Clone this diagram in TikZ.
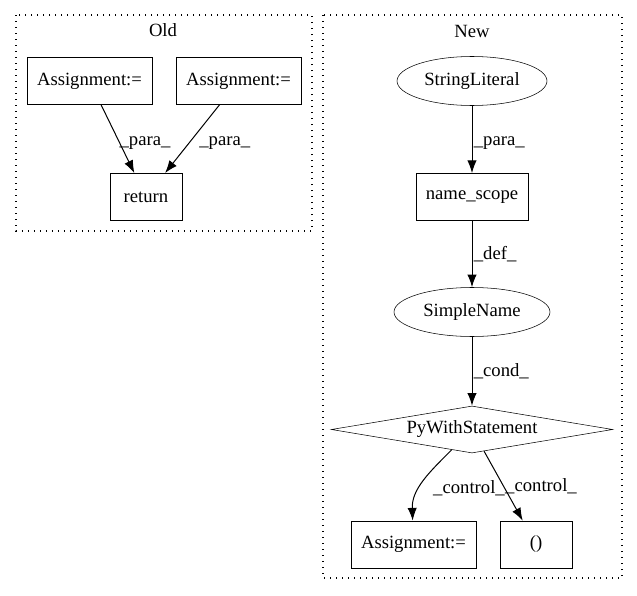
\documentclass[tikz,border=0pt]{standalone}
\usepackage{fontspec}
\setmainfont{Liberation Serif}
\usetikzlibrary{shapes.geometric,arrows.meta}

\begin{document}
\begin{tikzpicture}[x=0.75pt,y=0.75pt,font=\fontsize{14}{16}\selectfont,
   box/.style={draw,rectangle,inner sep=0pt,minimum height=35.5pt},
   oval/.style={draw,ellipse,inner sep=0pt,minimum height=36.75pt},
   edge/.style={black,-{Latex[length=9.5pt,width=7pt]},line width=0.75pt},
   lbl/.style={right,inner sep=1pt},
   cluster/.style={line width=0.9pt,dash pattern=on 0.9pt off 3.6pt}]
   \useasboundingbox (0,0) rectangle (637,-596);
   \draw[cluster] (16,-15) rectangle (312,-231);
   \draw[cluster] (323,-15) rectangle (622,-578);
   \node (old) at (163,-30) {Old};
   \node (new) at (472,-31) {New};
   \node[box,minimum width=93.75pt] (asgA) at (89.5,-81) {Assignment:=};
   \node[box,minimum width=93.75pt] (asgB) at (238.5,-81) {Assignment:=};
   \node[box,minimum width=54pt] (ret) at (146,-197) {return};
   \node[oval,minimum width=112.5pt] (strlit) at (472,-81) {StringLiteral};
   \node[box,minimum width=84pt] (nscope) at (472,-197) {name\_scope};
   \node[oval,minimum width=117pt] (sname) at (472,-312) {SimpleName};
   \node[draw,diamond,aspect=6,inner sep=0pt,minimum width=210.75pt,minimum height=35.25pt] (pws) at (472,-429.5) {PyWithStatement};
   \node[box,minimum width=93.75pt] (asgC) at (413.5,-544.5) {Assignment:=};
   \node[box,minimum width=54pt] (par) at (536,-544.5) {()};
   \draw[edge] (asgA)--(ret) node[midway,lbl,yshift=-3pt] () {\_para\_};
   \draw[edge] (asgB)--(ret) node[midway,lbl,xshift=4pt,yshift=-3pt] () {\_para\_};
   \draw[edge] (strlit)--(nscope) node[midway,lbl,yshift=-3pt] () {\_para\_};
   \draw[edge] (nscope)--(sname) node[midway,lbl] () {\_def\_};
   \draw[edge] (sname)--(pws) node[midway,lbl] () {\_cond\_};
   \draw[edge] (pws) to[out=-135,in=92] node[pos=0.5,lbl,xshift=6pt,yshift=-5pt] () {\_control\_} (asgC);
   \draw[edge] (pws)--(par) node[midway,lbl] () {\_control\_};
\end{tikzpicture}
\end{document}
